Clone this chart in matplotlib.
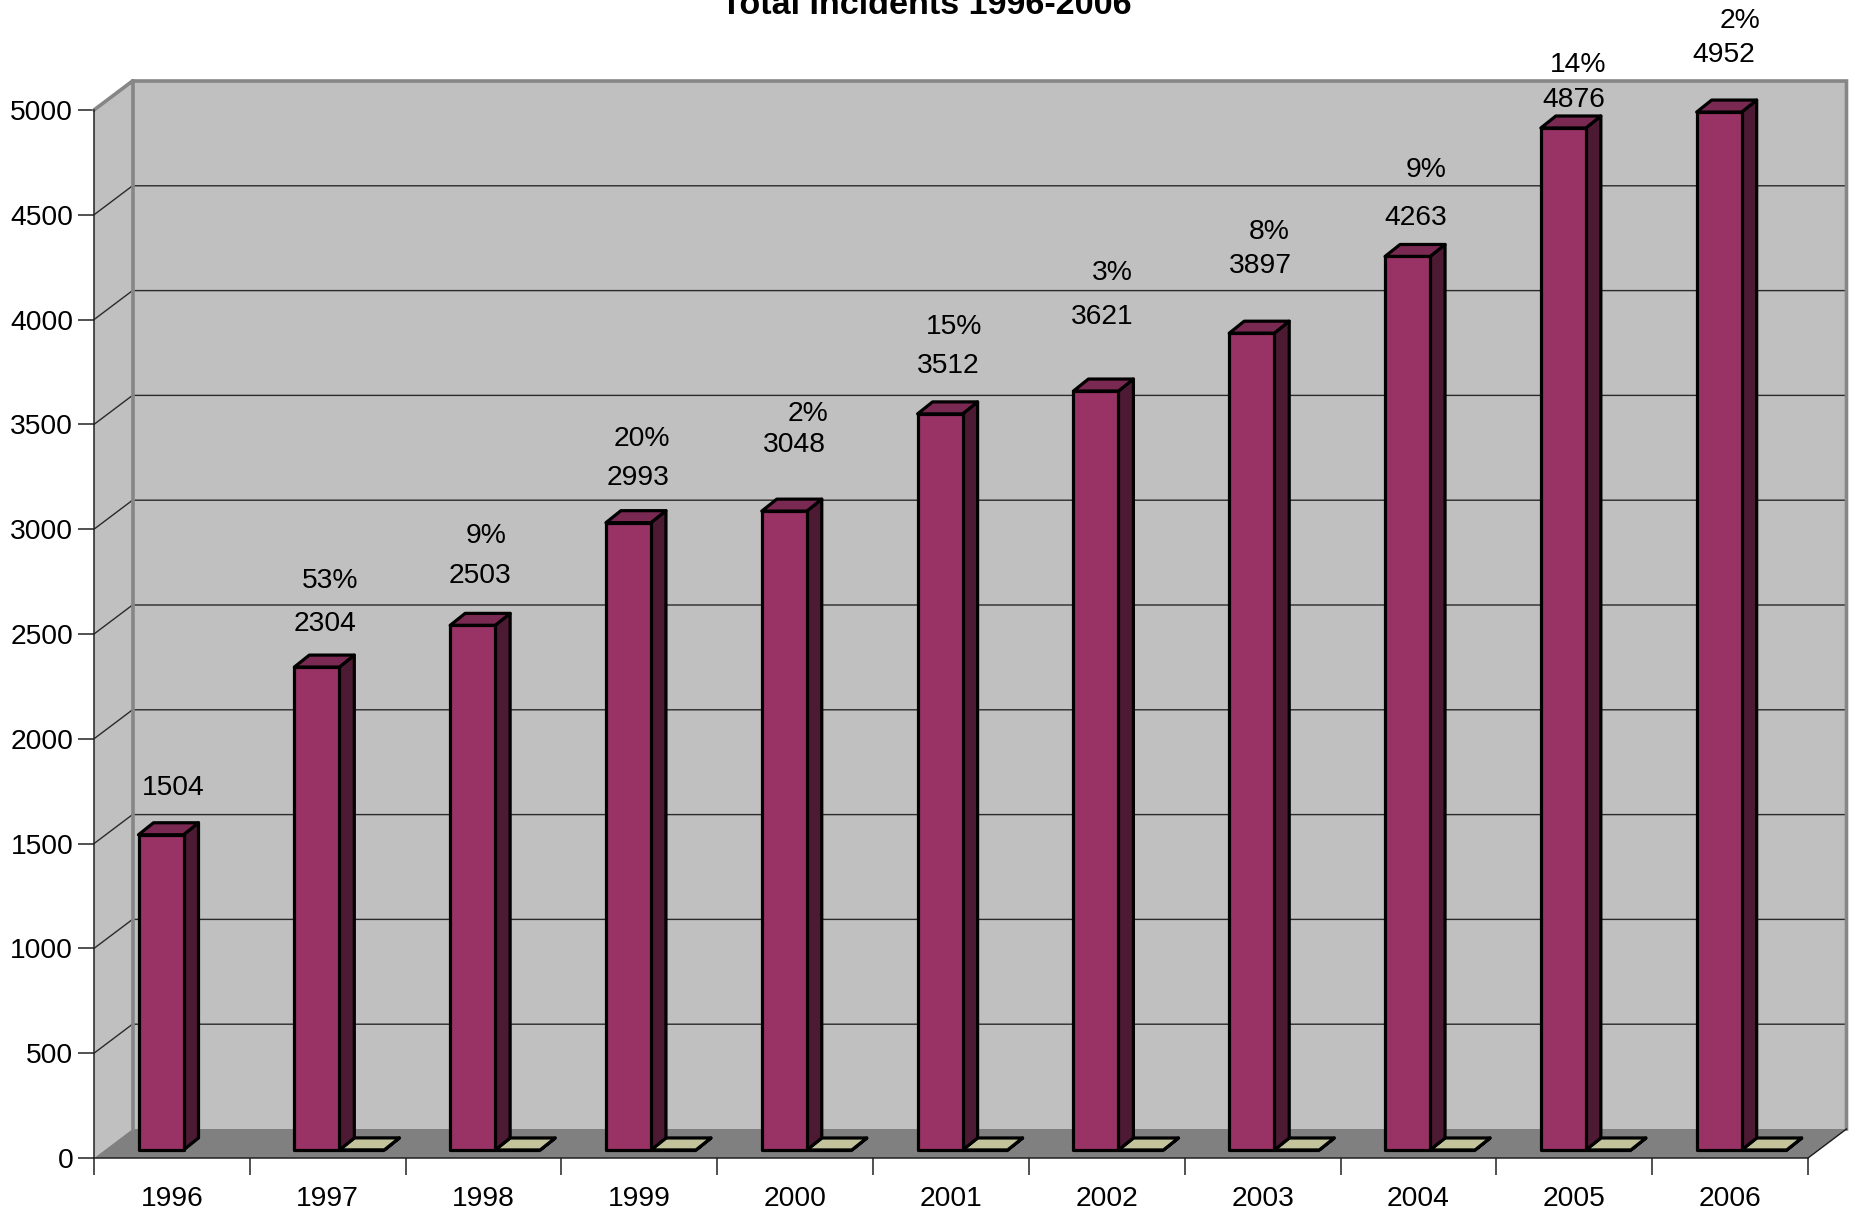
import matplotlib
matplotlib.use('Agg')
import matplotlib.pyplot as plt
from matplotlib.patches import Polygon

years = ['1996', '1997', '1998', '1999', '2000', '2001', '2002', '2003', '2004', '2005', '2006']
incidents = [1504, 2304, 2503, 2993, 3048, 3512, 3621, 3897, 4263, 4876, 4952]
change_pct = [None, 53, 9, 20, 2, 15, 3, 8, 9, 14, 2]
y_ticks = [0, 500, 1000, 1500, 2000, 2500, 3000, 3500, 4000, 4500, 5000]

# hand placed labels in the original, centres in image pixels
value_label_pos = [(173, 788), (325, 624), (480, 576), (638, 478), (794, 445), (948, 366),
	(1102, 317), (1260, 266), (1416, 218), (1574, 100), (1724, 55)]
pct_label_pos = [None, (330, 581), (486, 536), (642, 439), (808, 414), (954, 327),
	(1112, 273), (1269, 232), (1426, 170), (1578, 65), (1740, 21)]

W, H = 1857, 1215
LEFT, RIGHT, TOP, BOTTOM = 94, 1808, 110, 1158
px_x = (RIGHT - LEFT) / len(years)
px_y = (BOTTOM - TOP) / y_ticks[-1]

# depth of the fake 3d box, and of each bar
depth_x = 38.5 / px_x
depth_y = 29 / px_y
bar_dx = 15 / px_x
bar_dy = 12 / px_y
bar_w = 45 / px_x
bar_gap = 44.5 / px_x
bar_lift = 8 / px_y

plt.rcParams['font.family'] = ['Liberation Sans', 'DejaVu Sans']

WALL = '#c0c0c0'
FLOOR = '#808080'
BORDER = '#868686'
FRONT = '#993366'
SIDE = '#4d1a33'
TOPC = '#7a2952'
PALE = '#c4c49c'
EDGE = '#000000'
FS = 20.3


def poly(ax, pts, face, z, edge='none', lw=0):
	ax.add_patch(Polygon(pts, closed=True, facecolor=face, edgecolor=edge, linewidth=lw,
		joinstyle='round', clip_on=False, zorder=z))


def bar3d(ax, x, value, front, side, top, z):
	base = bar_lift
	h = base + value
	w = bar_w
	poly(ax, [(x + w, base), (x + w + bar_dx, base + bar_dy), (x + w + bar_dx, h + bar_dy), (x + w, h)], side, z, EDGE, 2.3)
	poly(ax, [(x, h), (x + bar_dx, h + bar_dy), (x + w + bar_dx, h + bar_dy), (x + w, h)], top, z, EDGE, 2.3)
	poly(ax, [(x, base), (x + w, base), (x + w, h), (x, h)], front, z, EDGE, 2.3)


fig = plt.figure(figsize=(W / 100, H / 100), dpi=100)
ax = fig.add_axes([LEFT / W, 1 - BOTTOM / H, (RIGHT - LEFT) / W, (BOTTOM - TOP) / H])
ax.set_xlim(0, len(years))
ax.set_ylim(0, y_ticks[-1])

n = len(years)
ymax = y_ticks[-1]
poly(ax, [(0, 0), (depth_x, depth_y), (depth_x, ymax + depth_y), (0, ymax)], WALL, 1)
poly(ax, [(depth_x, depth_y), (n + depth_x, depth_y), (n + depth_x, ymax + depth_y), (depth_x, ymax + depth_y)], WALL, 1)
poly(ax, [(0, 0), (n, 0), (n + depth_x, depth_y), (depth_x, depth_y)], FLOOR, 1)

for v in y_ticks[1:-1]:
	ax.plot([0, depth_x, n + depth_x], [v, v + depth_y, v + depth_y], color='#2a2a2a', lw=1.0, clip_on=False, zorder=2)

# box outline
ax.plot([0, depth_x, n + depth_x, n + depth_x], [ymax, ymax + depth_y, ymax + depth_y, depth_y],
	color=BORDER, lw=2.6, clip_on=False, zorder=3, solid_joinstyle='miter')
ax.plot([depth_x, depth_x], [depth_y, ymax + depth_y], color=BORDER, lw=2.6, clip_on=False, zorder=3)
ax.plot([n, n + depth_x], [0, depth_y], color='#1a1a1a', lw=1.0, clip_on=False, zorder=3)

for i, value in enumerate(incidents):
	x = i + bar_gap
	if change_pct[i] is not None:
		bar3d(ax, x + bar_w, change_pct[i] / 100, PALE, PALE, PALE, 4 + i)
	bar3d(ax, x, value, FRONT, SIDE, TOPC, 5 + i)

for sp in ['top', 'right']:
	ax.spines[sp].set_visible(False)
for sp in ['left', 'bottom']:
	ax.spines[sp].set_linewidth(1.1)
	ax.spines[sp].set_color('#222222')
	ax.spines[sp].set_zorder(20)
ax.patch.set_visible(False)

ax.set_yticks(y_ticks)
ax.tick_params(axis='y', length=11.5, width=1.1, pad=3.5, labelsize=FS, color='#222222')
ax.set_xticks(range(n + 1))
ax.set_xticklabels([])
ax.set_xticks([i + 0.5 for i in range(n)], labels=years, minor=True)
ax.tick_params(axis='x', which='major', length=12, width=1.1, color='#222222')
ax.tick_params(axis='x', which='minor', length=0, pad=20, labelsize=FS)

for label, pos in zip(incidents, value_label_pos):
	fig.text(pos[0] / W, 1 - pos[1] / H, str(label), fontsize=FS, ha='center', va='center', color='black')
for pct, pos in zip(change_pct, pct_label_pos):
	if pct is not None:
		fig.text(pos[0] / W, 1 - pos[1] / H, '%d%%' % pct, fontsize=FS, ha='center', va='center', color='black')

fig.text(926 / W, 1 - 6 / H, 'Total Incidents 1996-2006', fontsize=24.6, fontweight='bold', ha='center', va='center')

fig.savefig('out.png', dpi=100)
